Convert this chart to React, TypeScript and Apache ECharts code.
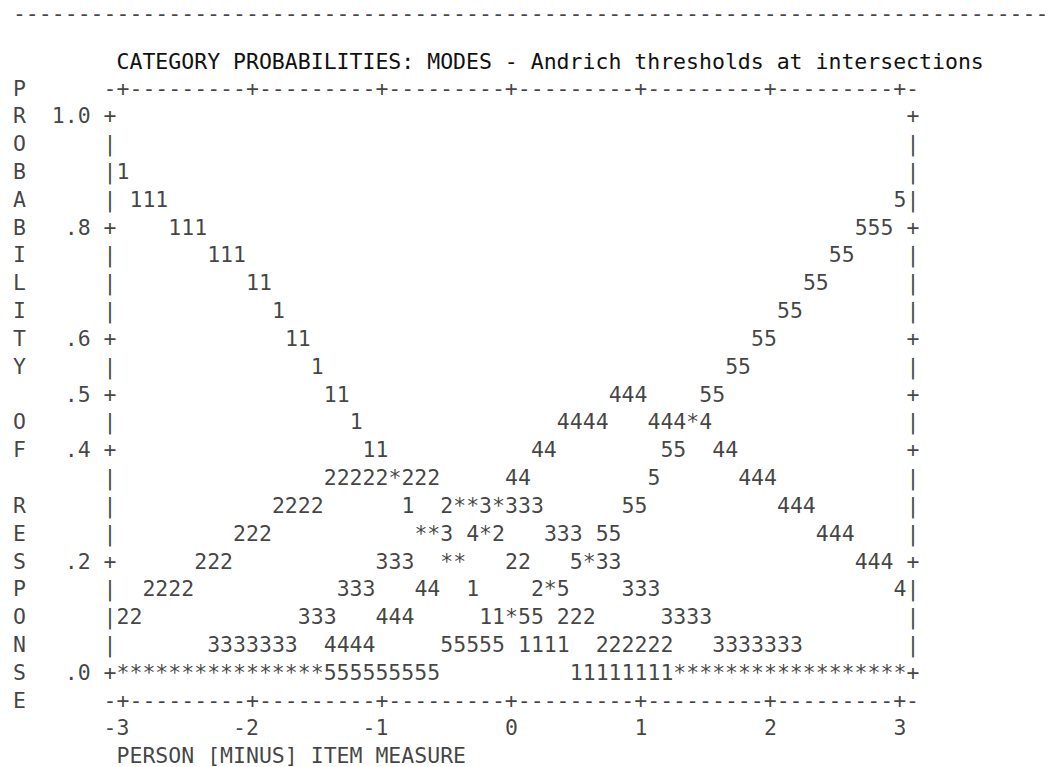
import React, { useEffect, useRef } from "react";
import * as echarts from "echarts";

// ---------------- data ----------------
const measures = [
  -3.0, -2.9, -2.8, -2.7, -2.6, -2.5, -2.4, -2.3, -2.2, -2.1,
  -2.0, -1.9, -1.8, -1.7, -1.6, -1.5, -1.4, -1.3, -1.2, -1.1,
  -1.0, -0.9, -0.8, -0.7, -0.6, -0.5, -0.4, -0.3, -0.2, -0.1,
  0.0, 0.1, 0.2, 0.3, 0.4, 0.5, 0.6, 0.7, 0.8, 0.9,
  1.0, 1.1, 1.2, 1.3, 1.4, 1.5, 1.6, 1.7, 1.8, 1.9,
  2.0, 2.1, 2.2, 2.3, 2.4, 2.5, 2.6, 2.7, 2.8, 2.9,
  3.0,
];

const categoryCodes = ["1", "2", "3", "4", "5"];

const probCategory1 = [
  0.9, 0.85, 0.85, 0.85, 0.8, 0.8, 0.8, 0.75, 0.75, 0.75,
  0.7, 0.7, 0.65, 0.6, 0.6, 0.55, 0.5, 0.5, 0.45, 0.4,
  0.4, 0.35, 0.3, 0.25, 0.25, 0.2, 0.2, 0.15, 0.1, 0.1,
  0.1, 0.05, 0.05, 0.05, 0.05, 0, 0, 0, 0, 0,
  0, 0, 0, 0, 0, 0, 0, 0, 0, 0,
  0, 0, 0, 0, 0, 0, 0, 0, 0, 0,
  0,
];
const probCategory2 = [
  0.1, 0.1, 0.15, 0.15, 0.15, 0.15, 0.2, 0.2, 0.2, 0.25,
  0.25, 0.25, 0.3, 0.3, 0.3, 0.3, 0.35, 0.35, 0.35, 0.35,
  0.35, 0.35, 0.35, 0.35, 0.35, 0.3, 0.3, 0.3, 0.25, 0.25,
  0.2, 0.2, 0.15, 0.15, 0.1, 0.1, 0.1, 0.05, 0.05, 0.05,
  0.05, 0.05, 0.05, 0, 0, 0, 0, 0, 0, 0,
  0, 0, 0, 0, 0, 0, 0, 0, 0, 0,
  0,
];
const probCategory3 = [
  0, 0, 0, 0, 0, 0, 0, 0.05, 0.05, 0.05,
  0.05, 0.05, 0.05, 0.05, 0.1, 0.1, 0.1, 0.15, 0.15, 0.15,
  0.2, 0.2, 0.2, 0.25, 0.25, 0.25, 0.3, 0.3, 0.3, 0.3,
  0.3, 0.3, 0.3, 0.25, 0.25, 0.25, 0.2, 0.2, 0.2, 0.15,
  0.15, 0.15, 0.1, 0.1, 0.1, 0.1, 0.05, 0.05, 0.05, 0.05,
  0.05, 0.05, 0.05, 0, 0, 0, 0, 0, 0, 0,
  0,
];
const probCategory4 = [
  0, 0, 0, 0, 0, 0, 0, 0, 0, 0,
  0, 0, 0, 0, 0, 0, 0.05, 0.05, 0.05, 0.05,
  0.1, 0.1, 0.1, 0.15, 0.15, 0.2, 0.2, 0.25, 0.25, 0.3,
  0.35, 0.35, 0.4, 0.4, 0.45, 0.45, 0.45, 0.45, 0.5, 0.5,
  0.5, 0.45, 0.45, 0.45, 0.45, 0.45, 0.4, 0.4, 0.35, 0.35,
  0.35, 0.3, 0.3, 0.3, 0.25, 0.25, 0.25, 0.2, 0.2, 0.2,
  0.15,
];
const probCategory5 = [
  0, 0, 0, 0, 0, 0, 0, 0, 0, 0,
  0, 0, 0, 0, 0, 0, 0, 0, 0, 0,
  0, 0, 0, 0, 0, 0.05, 0.05, 0.05, 0.05, 0.05,
  0.1, 0.1, 0.1, 0.15, 0.15, 0.2, 0.2, 0.25, 0.25, 0.3,
  0.3, 0.35, 0.4, 0.4, 0.45, 0.5, 0.5, 0.55, 0.55, 0.6,
  0.6, 0.65, 0.65, 0.7, 0.7, 0.75, 0.75, 0.8, 0.8, 0.8,
  0.85,
];
const categoryProbabilities = [probCategory1, probCategory2, probCategory3, probCategory4, probCategory5];

const yTickValues = [1.0, 0.8, 0.6, 0.5, 0.4, 0.2, 0.0];
const yTickLabels = ["1.0", ".8", ".6", ".5", ".4", ".2", ".0"];
const xTickValues = [-3, -2, -1, 0, 1, 2, 3];
const xTickLabels = ["-3", "-2", "-1", "0", "1", "2", "3"];

const chartTitle = "CATEGORY PROBABILITIES: MODES - Andrich thresholds at intersections";
const yAxisTitle = "PROBABILITY OF RESPONSE";
const xAxisTitle = "PERSON [MINUS] ITEM MEASURE";
const overlapMark = "*";
const separatorChar = "-";

// ---------------- layout (character grid) ----------------
const WIDTH = 1051;
const HEIGHT = 767;
const CHAR_W = 12.95;
const LINE_H = 27.82;
const COL0_X = 19.4; // centre of character column 0
const ROW0_Y = 4.6; // centre of text line 0
const SEPARATOR_DROP = 9; // keeps the top rule's text box inside the page
const FONT = "'DejaVu Sans Mono', 'Liberation Mono', monospace";
const FONT_SIZE = 21.5;
const INK = "#111111";

const X_MIN = -3;
const X_MAX = 3;
const P_MIN = 0;
const P_MAX = 1;
const X_STEP = 0.1;
const P_STEP = 0.05;
const PLOT_COL0 = 8;
const PLOT_ROW0 = 4;
const PLOT_COLS = Math.round((X_MAX - X_MIN) / X_STEP);
const PLOT_ROWS = Math.round((P_MAX - P_MIN) / P_STEP);

const colOfX = (x: number) => PLOT_COL0 + Math.round((x - X_MIN) / X_STEP);
const xOfCol = (c: number) => X_MIN + (c - PLOT_COL0) * X_STEP;
const rowOfP = (p: number) => PLOT_ROW0 + Math.round((P_MAX - p) / P_STEP);
const pOfRow = (k: number) => P_MAX - (k - PLOT_ROW0) * P_STEP;

type Item = { name: string; value: [number, number]; label?: any };
const textAt = (col: number, row: number, text: string): Item => ({
  name: text,
  value: [xOfCol(col), pOfRow(row)],
});

function splitRuns(chars: string[], firstCol: number, row: number): Item[] {
  const items: Item[] = [];
  let start = -1;
  for (let i = 0; i <= chars.length; i++) {
    const ch = i < chars.length ? chars[i] : " ";
    if (ch !== " " && start < 0) start = i;
    if (ch === " " && start >= 0) {
      items.push(textAt(firstCol + start, row, chars.slice(start, i).join("")));
      start = -1;
    }
  }
  return items;
}

function buildCurveItems(): Item[] {
  const cells: Record<number, string[][]> = {};
  for (let k = PLOT_ROW0; k <= PLOT_ROW0 + PLOT_ROWS; k++) {
    cells[k] = Array.from({ length: PLOT_COLS + 1 }, () => [] as string[]);
  }
  categoryProbabilities.forEach((probs, ci) => {
    probs.forEach((p, i) => {
      const row = rowOfP(p);
      const col = colOfX(measures[i]) - PLOT_COL0;
      cells[row][col].push(categoryCodes[ci]);
    });
  });
  const items: Item[] = [];
  for (let k = PLOT_ROW0; k <= PLOT_ROW0 + PLOT_ROWS; k++) {
    const chars = cells[k].map((c) => (c.length === 0 ? " " : c.length === 1 ? c[0] : overlapMark));
    items.push(...splitRuns(chars, PLOT_COL0, k));
  }
  return items;
}

function buildFrameItems(): Item[] {
  const items: Item[] = [];
  const leftCol = PLOT_COL0 - 1;
  const rightCol = PLOT_COL0 + PLOT_COLS + 1;
  const tickRows = yTickValues.map(rowOfP);
  for (let k = PLOT_ROW0; k <= PLOT_ROW0 + PLOT_ROWS; k++) {
    const ch = tickRows.includes(k) ? "+" : "|";
    items.push(textAt(leftCol, k, ch));
    items.push(textAt(rightCol, k, ch));
  }
  const tickCols = xTickValues.map(colOfX);
  let border = "";
  for (let c = leftCol; c <= rightCol; c++) border += tickCols.includes(c) ? "+" : "-";
  items.push(textAt(leftCol, PLOT_ROW0 - 1, border));
  items.push(textAt(leftCol, PLOT_ROW0 + PLOT_ROWS + 1, border));
  return items;
}

function buildLabelItems(): Item[] {
  const items: Item[] = [];
  yTickValues.forEach((v, i) => {
    const t = yTickLabels[i];
    items.push(textAt(PLOT_COL0 - 2 - t.length, rowOfP(v), t));
  });
  xTickValues.forEach((v, i) => {
    const t = xTickLabels[i];
    items.push(textAt(colOfX(v) - t.length + 1, PLOT_ROW0 + PLOT_ROWS + 2, t));
  });
  items.push(textAt(PLOT_COL0, PLOT_ROW0 + PLOT_ROWS + 3, xAxisTitle));
  yAxisTitle.split("").forEach((ch, i) => {
    if (ch !== " ") items.push(textAt(0, PLOT_ROW0 - 1 + i, ch));
  });
  // separator line of dashes across the page top, kept inside the page
  const dashCount = Math.floor((WIDTH - (COL0_X - CHAR_W / 2)) / CHAR_W);
  const sep = textAt(0, 0, separatorChar.repeat(dashCount));
  sep.label = { offset: [-CHAR_W / 2, SEPARATOR_DROP] };
  items.push(sep);
  return items;
}

export default function App() {
  const ref = useRef<HTMLDivElement>(null);
  useEffect(() => {
    if (!ref.current) return;
    const chart = echarts.init(ref.current, undefined, { renderer: "svg" });
    const label = {
      show: true,
      position: "inside",
      align: "left",
      verticalAlign: "middle",
      offset: [-CHAR_W / 2, 0],
      formatter: "{b}",
      fontFamily: FONT,
      fontSize: FONT_SIZE,
      fontWeight: "normal",
      color: INK,
    };
    const base = {
      type: "scatter",
      symbol: "circle",
      symbolSize: 0,
      silent: true,
      clip: false,
      itemStyle: { color: "rgba(0,0,0,0)" },
      label,
      emphasis: { disabled: true },
    };
    chart.setOption({
      animation: false,
      backgroundColor: "#ffffff",
      title: {
        text: chartTitle,
        left: COL0_X + PLOT_COL0 * CHAR_W - CHAR_W / 2,
        top: ROW0_Y + 2 * LINE_H - LINE_H / 2 + 1.5,
        padding: 0,
        textStyle: {
          fontFamily: FONT,
          fontSize: FONT_SIZE,
          fontWeight: "normal",
          color: INK,
          lineHeight: LINE_H,
        },
      },
      grid: {
        left: COL0_X + PLOT_COL0 * CHAR_W,
        top: ROW0_Y + PLOT_ROW0 * LINE_H,
        width: PLOT_COLS * CHAR_W,
        height: PLOT_ROWS * LINE_H,
      },
      xAxis: { type: "value", min: X_MIN, max: X_MAX, show: false },
      yAxis: { type: "value", min: P_MIN, max: P_MAX, show: false },
      series: [
        { ...base, name: "Category probability curves", data: buildCurveItems() },
        { ...base, name: "Frame", data: buildFrameItems() },
        { ...base, name: "Labels", data: buildLabelItems() },
      ],
    });
    return () => chart.dispose();
  }, []);
  return (
    <div
      ref={ref}
      style={{ position: "fixed", left: 0, top: 0, width: WIDTH, height: HEIGHT, background: "#fff" }}
    />
  );
}
